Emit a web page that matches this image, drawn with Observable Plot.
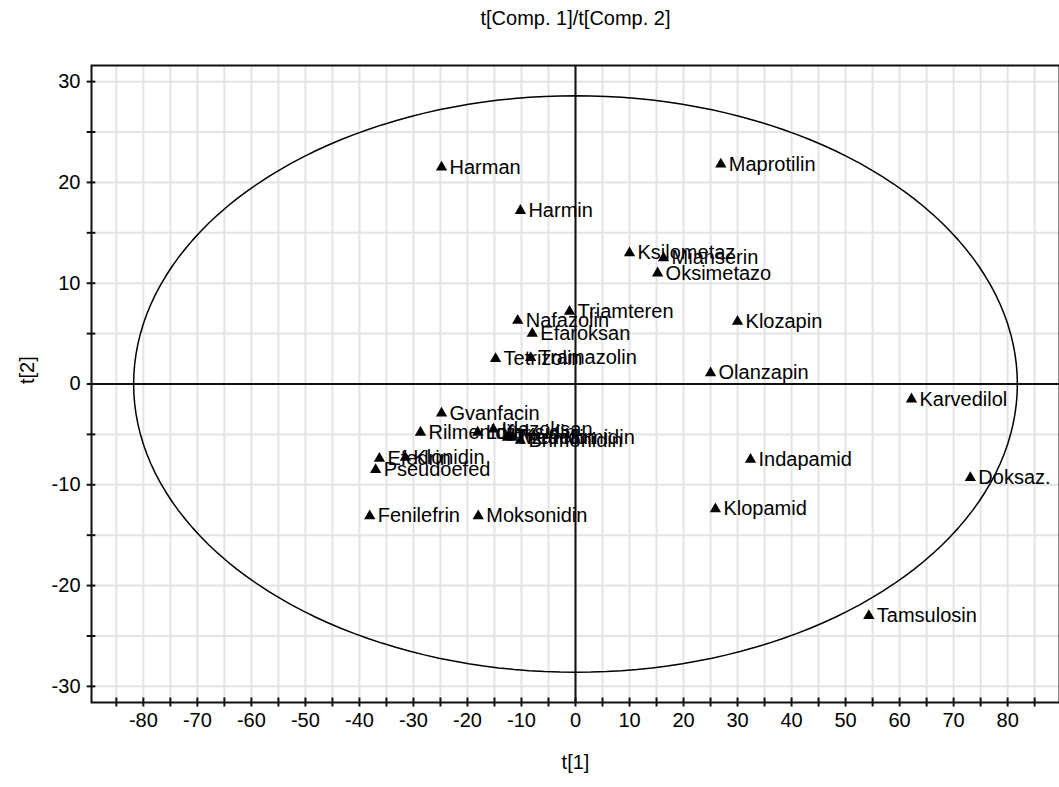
<!DOCTYPE html>
<html>
<head>
<meta charset="utf-8">
<script src="https://cdn.jsdelivr.net/npm/d3@7"></script>
<script src="https://cdn.jsdelivr.net/npm/@observablehq/plot@0.6"></script>
<style>
  html, body { margin: 0; padding: 0; background: #fff; }
  #chart { width: 1059px; height: 787px; }
</style>
</head>
<body>
<div id="chart"></div>
<script>
// ---- data ----
const names = ["Harman","Maprotilin","Harmin","Ksilometaz","Mianserin","Oksimetazo","Triamteren","Nafazolin","Efaroksan","Tetrizolin","Tramazolin","Klozapin","Olanzapin","Karvedilol","Doksaz.","Indapamid","Klopamid","Tamsulosin","Moksonidin","Fenilefrin","Pseudoefed","Efedrin","Klonidin","Gvanfacin","Rilmenidin","Lofeksidin","Idazoksan","Tizanidin","Medetomidin","Brimonidin"];
const t1 = [-24.8, 26.9, -10.2, 10.0, 16.3, 15.2, -1.1, -10.7, -8.0, -14.8, -8.3, 30.0, 25.0, 62.2, 73.1, 32.4, 25.9, 54.3, -18.0, -38.1, -37.0, -36.3, -31.5, -24.8, -28.7, -18.1, -15.2, -12.6, -11.7, -10.2];
const t2 = [21.5, 21.8, 17.2, 13.0, 12.5, 11.0, 7.2, 6.3, 5.0, 2.5, 2.6, 6.2, 1.1, -1.5, -9.3, -7.5, -12.4, -23.0, -13.1, -13.1, -8.5, -7.4, -7.3, -2.9, -4.8, -4.8, -4.5, -5.3, -5.3, -5.6];
const xLabelTicks = [-80, -70, -60, -50, -40, -30, -20, -10, 0, 10, 20, 30, 40, 50, 60, 70, 80];
const xMinorTicks = [-85, -80, -75, -70, -65, -60, -55, -50, -45, -40, -35, -30, -25, -20, -15, -10, -5, 0, 5, 10, 15, 20, 25, 30, 35, 40, 45, 50, 55, 60, 65, 70, 75, 80, 85];
const yLabelTicks = [-30, -20, -10, 0, 10, 20, 30];
const yMinorTicks = [-30, -25, -20, -15, -10, -5, 0, 5, 10, 15, 20, 25, 30];
const ellipseAxes = [81.8, 28.6]; // semi-axes of the T2 ellipse (t1, t2)
const xDomain = [-89.6, 89.6];
const yDomain = [-31.6, 31.6];
const title = "t[Comp. 1]/t[Comp. 2]";
const xTitle = "t[1]";
const yTitle = "t[2]";

// ---- tables built from the arrays ----
const points = names.map((n, i) => ({name: n, t1: t1[i], t2: t2[i]}));
const ellipse = d3.range(0, 361, 2).map(deg => ({
  t1: ellipseAxes[0] * Math.cos(deg * Math.PI / 180),
  t2: ellipseAxes[1] * Math.sin(deg * Math.PI / 180)
}));

const FONT = "Arial, 'Liberation Sans', sans-serif";

const chart = Plot.plot({
  width: 1059,
  height: 787,
  marginLeft: 91,
  marginRight: 0,
  marginTop: 65,
  marginBottom: 85,
  style: {fontFamily: FONT, fontSize: "20px", color: "#000", background: "#fff"},
  x: {domain: xDomain, axis: null},
  y: {domain: yDomain, axis: null},
  marks: [
    Plot.gridX(xMinorTicks, {stroke: "#e4e4e4", strokeOpacity: 1, strokeWidth: 2}),
    Plot.gridY(yMinorTicks, {stroke: "#e4e4e4", strokeOpacity: 1, strokeWidth: 2}),
    Plot.ruleX([0], {stroke: "#111", strokeWidth: 2}),
    Plot.ruleY([0], {stroke: "#111", strokeWidth: 2}),
    Plot.line(ellipse, {x: "t1", y: "t2", stroke: "#000", strokeWidth: 1.5, curve: "linear-closed"}),
    Plot.frame({stroke: "#111", strokeWidth: 2}),
    // crossing tick marks on the frame
    Plot.ruleX(xMinorTicks, {x: d => d, y1: yDomain[0] - 0.45, y2: yDomain[0] + 0.45, stroke: "#111", strokeWidth: 2}),
    Plot.ruleY(yMinorTicks, {y: d => d, x1: xDomain[0] - 0.8, x2: xDomain[0] + 0.8, stroke: "#111", strokeWidth: 2}),
    Plot.axisX(xLabelTicks, {tickSize: 0, tickPadding: 10, fontSize: 20, label: null, tickFormat: d => String(d)}),
    Plot.axisY(yLabelTicks, {tickSize: 0, tickPadding: 11, fontSize: 20, label: null, tickFormat: d => String(d)}),
    Plot.dot(points, {x: "t1", y: "t2", symbol: "triangle", r: 4.2, fill: "#000", stroke: "none"}),
    Plot.text(points, {x: "t1", y: "t2", text: "name", dx: 8, textAnchor: "start", lineAnchor: "middle", fontSize: 20, fill: "#000"}),
    Plot.text([title], {frameAnchor: "top", dy: -47, lineAnchor: "middle", fontSize: 20, fill: "#000"}),
    Plot.text([xTitle], {frameAnchor: "bottom", dy: 60, lineAnchor: "middle", fontSize: 20, fill: "#000"}),
    Plot.text([yTitle], {frameAnchor: "left", dx: -64, rotate: -90, lineAnchor: "middle", fontSize: 20, fill: "#000"})
  ]
});
document.getElementById("chart").appendChild(chart);
</script>
</body>
</html>
